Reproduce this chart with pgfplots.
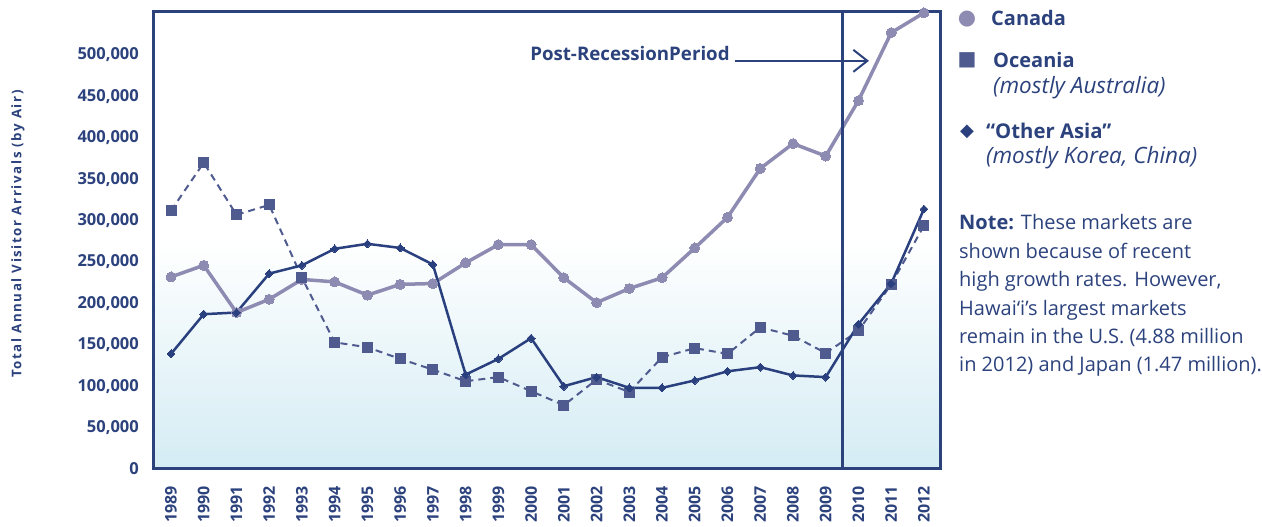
\documentclass[border=0pt]{standalone}
\usepackage{fontspec}
\setmainfont{Open Sans}
\newfontfamily\spaced[LetterSpace=12]{Open Sans}
\newfontfamily\dejavu{DejaVu Sans}
\usepackage{pgfplots}
\pgfplotsset{compat=1.18}
\usetikzlibrary{arrows.meta}
\definecolor{navy}{RGB}{44,66,125}
\definecolor{canada}{RGB}{142,139,178}
\definecolor{oceania}{RGB}{79,90,143}
\definecolor{asia}{RGB}{42,63,126}
\definecolor{bgblue}{RGB}{212,236,244}
\begin{document}
\begin{tikzpicture}[x=1pt,y=1pt]
\useasboundingbox (0,0) rectangle (1262,527);
\begin{axis}[
  at={(153pt,58pt)}, anchor=south west,
  scale only axis, width=787pt, height=457pt,
  xmin=1988.45, xmax=2012.49, ymin=0, ymax=552000,
  axis line style={navy, line width=3pt},
  axis background/.style={shade, top color=white, bottom color=bgblue, middle color=white},
  xtick={1989,...,2012}, ytick={0,50000,...,500000},
  major tick length=0pt,
  scaled y ticks=false,
  /pgf/number format/assume math mode=true,
  xticklabel style={rotate=90, anchor=east, inner sep=0pt, font=\fontsize{16}{16}\selectfont\bfseries, text=navy, /pgf/number format/1000 sep={}},
  yticklabel style={anchor=east, inner sep=0pt, font=\fontsize{16.5}{16.5}\selectfont\bfseries, text=navy, /pgf/number format/.cd, fixed, 1000 sep={,}},
  xticklabel shift=17pt,
  yticklabel shift=14pt,
  ylabel={Total Annual Visitor Arrivals (by Air)},
  ylabel style={at={(axis description cs:-0.1715,0.514)}, anchor=center, rotate=0, font=\spaced\fontsize{13.3}{13.3}\selectfont\bfseries, text=navy},
  clip=false,
]
\addplot[canada, line width=3.5pt, mark=*, mark size=5pt, mark options={solid, fill=canada, draw=canada, line width=0pt}] coordinates {
(1989,232000)(1990,246000)(1991,189000)(1992,205000)(1993,229000)(1994,226000)
(1995,210000)(1996,223000)(1997,224000)(1998,249000)(1999,271000)(2000,271000)
(2001,231000)(2002,201000)(2003,218000)(2004,231000)(2005,267000)(2006,304000)
(2007,363000)(2008,393000)(2009,378000)(2010,445000)(2011,527000)(2012,551000)};
\addplot[oceania, line width=2pt, dash pattern=on 7pt off 5pt, mark=square*, mark size=5pt, mark options={solid, fill=oceania, draw=oceania, line width=0pt}] coordinates {
(1989,312000)(1990,370000)(1991,307000)(1992,319000)(1993,231000)(1994,153000)
(1995,147000)(1996,133000)(1997,120000)(1998,106000)(1999,111000)(2000,94000)
(2001,77000)(2002,108000)(2003,93000)(2004,135000)(2005,146000)(2006,139000)
(2007,171000)(2008,161000)(2009,140000)(2010,167000)(2011,223000)(2012,294000)};
\addplot[asia, line width=2.5pt, mark=square*, mark size=2.8pt, mark options={solid, rotate=45, fill=asia, draw=asia, line width=0pt}] coordinates {
(1989,139000)(1990,187000)(1991,189000)(1992,236000)(1993,246000)(1994,266000)
(1995,272000)(1996,267000)(1997,247000)(1998,114000)(1999,133000)(2000,158000)
(2001,100000)(2002,111000)(2003,98000)(2004,98000)(2005,107000)(2006,118000)
(2007,123000)(2008,113000)(2009,111000)(2010,175000)(2011,224000)(2012,314000)};
\draw[navy, line width=3pt] (axis cs:2009.5,0) -- (axis cs:2009.5,552000);
\draw[navy, line width=2pt, -{Straight Barb[length=14pt, width=22pt, line width=2pt]}] (axis cs:2006.22,493000) -- (axis cs:2010.32,493000);
\node[anchor=base east, inner sep=0pt, text=navy, font=\fontsize{18.7}{18.7}\selectfont\bfseries] at (axis cs:2006.07,493000) {Post-RecessionPeriod};
\end{axis}
% legend
\node[anchor=center, inner sep=0pt, text=canada, font=\dejavu\fontsize{21}{21}\selectfont] at (967,508) {●};
\node[anchor=base west, inner sep=0pt, text=navy, font=\fontsize{20}{20}\selectfont\bfseries] at (991,501) {Canada};
\node[anchor=center, inner sep=0pt, text=oceania, font=\dejavu\fontsize{20}{20}\selectfont] at (967,467) {■};
\node[anchor=base west, inner sep=0pt, text=navy, font=\fontsize{20}{20}\selectfont\bfseries] at (993,459) {Oceania};
\node[anchor=base west, inner sep=0pt, text=navy, font=\fontsize{22.5}{22.5}\selectfont\itshape] at (993,433) {(mostly Australia)};
\node[anchor=center, inner sep=0pt, text=asia, font=\dejavu\fontsize{18}{18}\selectfont] at (967,395) {◆};
\node[anchor=base west, inner sep=0pt, text=navy, font=\fontsize{20.3}{20.3}\selectfont\bfseries] at (986,388) {“Other Asia”};
\node[anchor=base west, inner sep=0pt, text=navy, font=\fontsize{22.5}{22.5}\selectfont\itshape] at (986,363) {(mostly Korea, China)};
% note
\foreach \t [count=\i from 0] in {{\textbf{Note:} These markets are},{shown because of recent},{high growth rates. However,},{Hawai‘i’s largest markets},{remain in the U.S. (4.88 million},{in 2012) and Japan (1.47 million).}}{
  \node[anchor=base west, inner sep=0pt, text=navy, font=\fontsize{20}{20}\selectfont] at (959,{297-28.4*\i}) {\t};
}
\end{tikzpicture}
\end{document}
